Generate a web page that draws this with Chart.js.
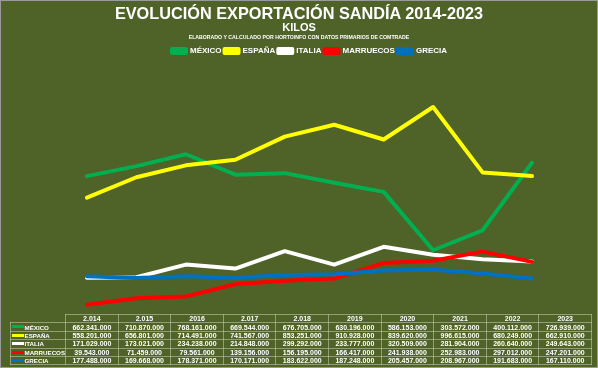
<!DOCTYPE html>
<html><head><meta charset="utf-8">
<script src="https://cdn.jsdelivr.net/npm/chart.js@4.4.1/dist/chart.umd.min.js"></script>
<style>
html,body{margin:0;padding:0;background:#4F6228;}
#wrap{position:relative;width:598px;height:368px;background:#4F6228;overflow:hidden;font-family:"Liberation Sans",Arial,sans-serif;color:#fff;}
#c{position:absolute;left:0;top:0;}
#frame{position:absolute;left:0;top:0;width:598px;height:368px;box-sizing:border-box;border:1px solid #9a9a9a;pointer-events:none;}
.hd{position:absolute;left:0;width:598px;text-align:center;font-weight:bold;white-space:nowrap;}
#t1{top:4px;font-size:16.3px;line-height:19px;}
#t2{top:21.3px;font-size:11px;line-height:12px;}
#t3{top:34px;font-size:5.2px;line-height:6px;}
#tbl{position:absolute;left:10px;top:314px;border-collapse:collapse;table-layout:fixed;font-size:7px;font-weight:bold;color:#fff;}
#tbl td{padding:0;text-align:center;border:1px solid rgba(200,210,180,0.55);white-space:nowrap;overflow:hidden;line-height:7px;}
#tbl tr.h td{height:7.3px;}
#tbl tr.r td{height:7.45px;}
#tbl td.blank{border:none;}
#tbl td.lab{text-align:left;font-size:6.2px;padding-left:1px;}
.key{display:inline-block;width:12px;height:3px;vertical-align:middle;margin-right:0.5px;position:relative;top:-1px;}
</style></head>
<body>
<div id="wrap">
  <canvas id="c" width="598" height="368"></canvas>
  <div class="hd" id="t1">EVOLUCIÓN EXPORTACIÓN SANDÍA 2014-2023</div>
  <div class="hd" id="t2">KILOS</div>
  <div class="hd" id="t3">ELABORADO Y CALCULADO POR HORTOINFO CON DATOS PRIMARIOS DE COMTRADE</div>
  <table id="tbl"></table>
  <div id="frame"></div>
</div>
<script>
const categories = ['2.014','2.015','2016','2.017','2.018','2019','2020','2021','2022','2023'];
const mexico    = [662341000, 710870000, 768161000, 669544000, 676705000, 630196000, 586153000, 303572000, 400112000, 726939000];
const espana    = [558201000, 656801000, 714491000, 741567000, 853251000, 910928000, 839620000, 996615000, 680249000, 662910000];
const italia    = [171029000, 173021000, 234238000, 214848000, 299292000, 233777000, 320509000, 281904000, 260640000, 249643000];
const marruecos = [39543000, 71459000, 79561000, 139156000, 156195000, 166417000, 241938000, 252983000, 297012000, 247201000];
const grecia    = [177488000, 169668000, 178371000, 170171000, 183622000, 187248000, 205457000, 208967000, 191683000, 167110000];
const seriesNames = ['MÉXICO','ESPAÑA','ITALIA','MARRUECOS','GRECIA'];
const seriesData = [mexico, espana, italia, marruecos, grecia];
const seriesColors = ['#00B050','#FFFF00','#FFFFFF','#FF0000','#0070C0'];

const fmt = v => String(v).replace(/\B(?=(\d{3})+(?!\d))/g, '.');

// data table
const tbl = document.getElementById('tbl');
let html = '<colgroup><col style="width:55px">' + categories.map(() => '<col style="width:52.6px">').join('') + '</colgroup>';
html += '<tr class="h"><td class="blank"></td>' + categories.map(c => '<td>' + c + '</td>').join('') + '</tr>';
seriesNames.forEach((n, i) => {
  html += '<tr class="r"><td class="lab"><span class="key" style="background:' + seriesColors[i] + '"></span>' + n + '</td>' +
    seriesData[i].map(v => '<td>' + fmt(v) + '</td>').join('') + '</tr>';
});
tbl.innerHTML = html;

const fixLegend = {
  id: 'fixLegend',
  beforeInit(chart) {
    const orig = chart.legend.fit;
    chart.legend.fit = function () { orig.call(this); this.height = 21; };
  }
};

new Chart(document.getElementById('c'), {
  type: 'line',
  data: {
    labels: categories,
    datasets: seriesNames.map((n, i) => ({
      label: n,
      data: seriesData[i],
      borderColor: seriesColors[i],
      backgroundColor: seriesColors[i],
      borderWidth: 4,
      pointRadius: 0,
      tension: 0,
      borderCapStyle: 'round',
      borderJoinStyle: 'round',
      order: seriesNames.length - i
    }))
  },
  options: {
    responsive: false,
    animation: false,
    layout: { padding: { left: 87, right: 66, top: 44, bottom: 55 } },
    scales: {
      x: { display: false, offset: false },
      y: { display: false, min: 0, max: 1200000000 }
    },
    plugins: {
      legend: {
        position: 'top',
        labels: {
          color: '#fff',
          boxWidth: 14,
          boxHeight: 4,
          padding: 3,
          font: { family: '"Liberation Sans",Arial,sans-serif', size: 8, weight: 'bold' },
          sort: (a, b) => a.datasetIndex - b.datasetIndex
        }
      },
      tooltip: { enabled: false },
      title: { display: false }
    }
  },
  plugins: [fixLegend]
});
</script>
</body></html>
